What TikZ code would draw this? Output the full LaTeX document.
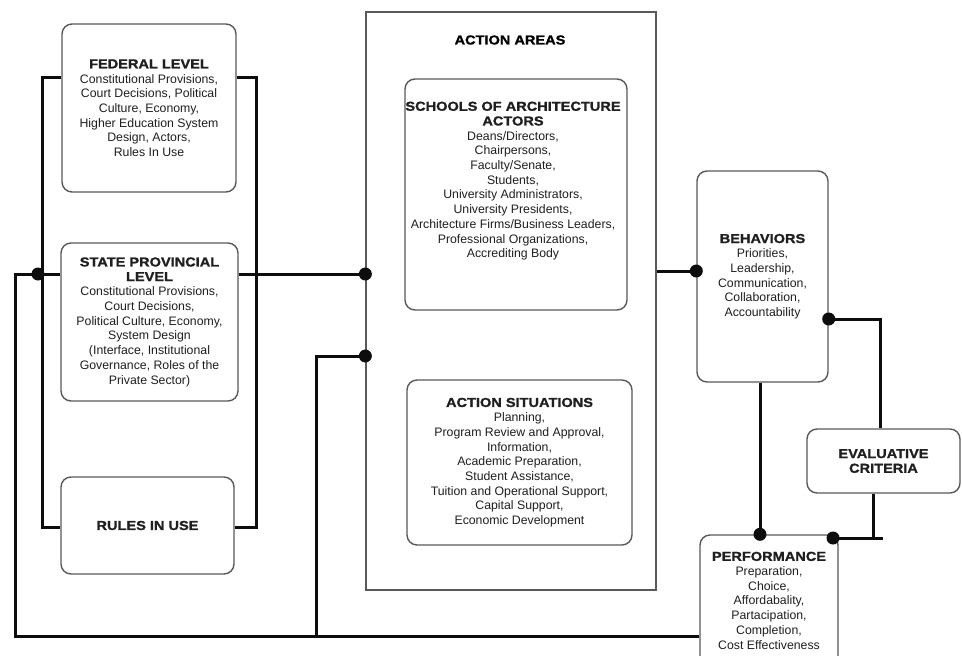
\documentclass[tikz,border=0pt]{standalone}
\usepackage{fontspec}
\setmainfont{Liberation Sans}
\newfontfamily\headfont[FakeStretch=1.12, FakeBold=1.2]{Liberation Sans}
\usepackage{tikz}
\usetikzlibrary{positioning, calc}
\definecolor{lineBlack}{gray}{0.05}
\definecolor{boxGray}{gray}{0.35}
\definecolor{textBlack}{gray}{0.12}
\newcommand{\bodyfont}{\fontsize{12.3}{14.7}\selectfont}
\newcommand{\hd}[1]{{\headfont\bfseries\fontsize{13}{15.5}\selectfont #1}}

\begin{document}
\begin{tikzpicture}[x=1pt, y=-1pt,
    box/.style={draw=boxGray, line width=1.4pt, rounded corners=10pt, fill=white,
        align=center, text=textBlack, font=\bodyfont, inner sep=2pt},
    link/.style={draw=lineBlack, line width=3pt},
    dot/.style={fill=lineBlack}]
    \useasboundingbox (0,0) rectangle (962,656);

    % Levels
    \node[box, minimum width=174pt, minimum height=168pt] (federal) at (149,108)
        {\hd{FEDERAL LEVEL}\\ Constitutional Provisions,\\ Court Decisions, Political\\
         Culture, Economy,\\ Higher Education System\\ Design, Actors,\\ Rules In Use};
    \node[box, minimum width=177pt, minimum height=158pt] (state) at (149.5,322)
        {\hd{STATE PROVINCIAL}\\ \hd{LEVEL}\\ Constitutional Provisions,\\ Court Decisions,\\
         Political Culture, Economy,\\ System Design\\ (Interface, Institutional\\
         Governance, Roles of the\\ Private Sector)};
    \node[box, minimum width=173pt, minimum height=97pt] (rules) at (147.5,525.5) {\hd{RULES IN USE}};

    % Action areas
    \node[draw=boxGray, line width=1.3pt, minimum width=290pt, minimum height=578pt] (areas) at (511,301) {};
    \node (areastitle) at (510,40) {\hd{ACTION AREAS}};
    \node[box, minimum width=222pt, minimum height=231pt] (schools) at (516,194.5) {};
    \node[align=center, font=\bodyfont, text=textBlack] (schoolstext) at (513,181)
        {\hd{SCHOOLS OF ARCHITECTURE}\\ \hd{ACTORS}\\ Deans/Directors,\\ Chairpersons,\\
         Faculty/Senate,\\ Students,\\ University Administrators,\\ University Presidents,\\
         Architecture Firms/Business Leaders,\\ Professional Organizations,\\ Accrediting Body};
    \node[box, minimum width=225pt, minimum height=165pt] (situations) at (519.5,462.5)
        {\hd{ACTION SITUATIONS}\\ Planning,\\ Program Review and Approval,\\ Information,\\
         Academic Preparation,\\ Student Assistance,\\ Tuition and Operational Support,\\
         Capital Support,\\ Economic Development};

    % Outcomes
    \node[box, minimum width=131pt, minimum height=211pt] (behaviors) at (762.5,276.5)
        {\hd{BEHAVIORS}\\ Priorities,\\ Leadership,\\ Communication,\\ Collaboration,\\ Accountability};
    \node[box, minimum width=153pt, minimum height=64pt] (criteria) at (883.5,461)
        {\hd{EVALUATIVE}\\ \hd{CRITERIA}};
    \node[box, minimum width=138pt, minimum height=131pt] (performance) at (769,600.5)
        {\hd{PERFORMANCE}\\ Preparation,\\ Choice,\\ Affordabality,\\ Partacipation,\\
         Completion,\\ Cost Effectiveness};

    % Brackets round the levels
    \coordinate (bracketTL) at (42,77);
    \coordinate (bracketBL) at (42,527);
    \coordinate (bracketTR) at (256,77);
    \coordinate (bracketBR) at (256,527);
    \draw[link] (federal.west |- bracketTL) -- (bracketTL) -- (bracketBL) -- (rules.west |- bracketBL);
    \draw[link] (federal.east |- bracketTR) -- (bracketTR) -- (bracketBR) -- (rules.east |- bracketBR);

    % Feedback loops
    \coordinate (outerTop) at (15,274);
    \coordinate (outerBot) at (15,636);
    \coordinate (innerTop) at (316,356);
    \coordinate (innerBot) at (316,636);
    \draw[link] (state.west |- outerTop) -- (outerTop) -- (outerBot) -- (performance.west |- outerBot);
    \draw[link] (state.east |- outerTop) -- (areas.west |- outerTop);
    \draw[link] (innerBot) -- (innerTop) -- (areas.west |- innerTop);
    \fill[dot] (38,274) circle (6.5pt);
    \fill[dot] (areas.west |- outerTop) circle (6.5pt);
    \fill[dot] (areas.west |- innerTop) circle (6.5pt);

    % Areas to outcomes
    \coordinate (actLink) at (0,271);
    \coordinate (evalTop) at (880,319);
    \coordinate (perfLink) at (760,0);
    \coordinate (evalBot) at (873,538);
    \coordinate (perfCorner) at (833,538);
    \coordinate (evalEnd) at (883,538);
    \draw[link] (areas.east |- actLink) -- (behaviors.west |- actLink);
    \fill[dot] (behaviors.west |- actLink) circle (6.5pt);
    \draw[link] (behaviors.east |- evalTop) -- (evalTop) -- (evalTop |- criteria.north);
    \fill[dot] (behaviors.east |- evalTop) circle (6.5pt);
    \draw[link] (behaviors.south -| perfLink) -- (performance.north -| perfLink);
    \fill[dot] (performance.north -| perfLink) circle (6.5pt);
    \draw[link] (criteria.south -| evalBot) -- (evalBot);
    \draw[link] (perfCorner) -- (evalEnd);
    \fill[dot] (perfCorner) circle (6.5pt);
\end{tikzpicture}
\end{document}
